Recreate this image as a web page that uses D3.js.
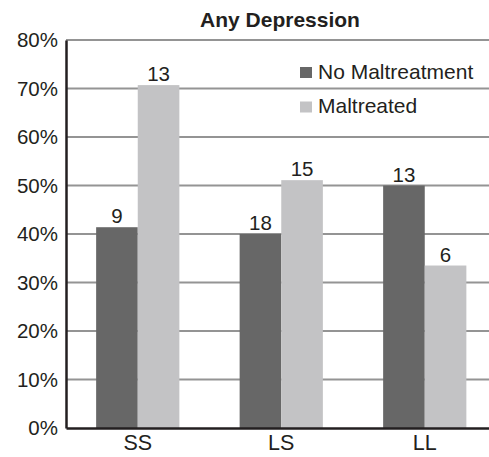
<!DOCTYPE html>
<html lang="en">
<head>
  <meta charset="UTF-8">
  <title>Any Depression</title>
  <script src="https://cdn.jsdelivr.net/npm/d3@7"></script>
  <style>
    body { margin: 0; background: #fff; }
    text { font-family: "Liberation Sans", Arial, sans-serif; fill: #231f20; }
  </style>
</head>
<body>
  <svg width="489" height="457"></svg>
  <script>
    let categories = ['SS', 'LS', 'LL'];
    let seriesNames = ['No Maltreatment', 'Maltreated'];
    let noMaltreatment = [41.4, 40, 50];
    let maltreated = [70.7, 51.1, 33.5];
    let nNoMaltreatment = [9, 18, 13];
    let nMaltreated = [13, 15, 6];
    let yTicks = [0, 10, 20, 30, 40, 50, 60, 70, 80];
    let colors = ['#676767', '#c3c3c5'];

    let svg = d3.select('svg');
    let plotLeft = 66, plotRight = 496.5, plotTop = 40, plotBottom = 428;

    let x = d3.scaleBand().domain(categories).range([plotLeft, plotRight])
      .paddingInner(0.42).paddingOuter(0.21);
    let xs = d3.scaleBand().domain(seriesNames).range([0, x.bandwidth()]);
    let y = d3.scaleLinear().domain([0, 80]).range([plotBottom, plotTop]);

    // gridlines
    svg.append('g')
      .selectAll('line')
      .data(yTicks.filter(d => d > 0))
      .join('line')
      .attr('x1', plotLeft).attr('x2', 489)
      .attr('y1', d => y(d)).attr('y2', d => y(d))
      .attr('stroke', '#949494').attr('stroke-width', 2);

    let rows = categories.map((c, i) => ({
      cat: c,
      vals: [
        {s: seriesNames[0], v: noMaltreatment[i], n: nNoMaltreatment[i], c: colors[0]},
        {s: seriesNames[1], v: maltreated[i], n: nMaltreated[i], c: colors[1]}
      ]
    }));

    let groups = svg.append('g')
      .selectAll('g')
      .data(rows)
      .join('g')
      .attr('transform', d => 'translate(' + x(d.cat) + ',0)');

    groups.selectAll('rect')
      .data(d => d.vals)
      .join('rect')
      .attr('x', d => xs(d.s))
      .attr('y', d => y(d.v))
      .attr('width', xs.bandwidth())
      .attr('height', d => plotBottom - y(d.v))
      .attr('fill', d => d.c);

    groups.selectAll('text')
      .data(d => d.vals)
      .join('text')
      .attr('x', d => xs(d.s) + xs.bandwidth() / 2)
      .attr('y', d => y(d.v) - 4)
      .attr('text-anchor', 'middle')
      .attr('font-size', 20.5)
      .text(d => d.n);

    // axes
    let yAxis = svg.append('g')
      .attr('transform', 'translate(' + plotLeft + ',0)')
      .call(d3.axisLeft(y).tickValues(yTicks).tickFormat(d => d + '%').tickSize(0).tickPadding(8));
    yAxis.select('.domain').attr('stroke', '#231f20').attr('stroke-width', 2.5);
    yAxis.selectAll('text').attr('font-size', 20.5).style('font-family', '"Liberation Sans", Arial, sans-serif').attr('fill', '#231f20');

    let xAxis = svg.append('g')
      .attr('transform', 'translate(0,' + plotBottom + ')')
      .call(d3.axisBottom(x).tickSize(0).tickPadding(7));
    xAxis.select('.domain').attr('stroke', '#231f20').attr('stroke-width', 2.5);
    xAxis.selectAll('text').attr('font-size', 21.5).style('font-family', '"Liberation Sans", Arial, sans-serif').attr('fill', '#231f20');

    // title
    svg.append('text')
      .attr('x', 280).attr('y', 27)
      .attr('text-anchor', 'middle')
      .attr('font-size', 21)
      .attr('font-weight', 'bold')
      .text('Any Depression');

    // legend
    let legend = svg.append('g')
      .selectAll('g')
      .data(seriesNames)
      .join('g')
      .attr('transform', (d, i) => 'translate(300,' + (67 + i * 34.5) + ')');
    legend.append('rect')
      .attr('width', 12).attr('height', 11)
      .attr('fill', (d, i) => colors[i]);
    legend.append('text')
      .attr('x', 18).attr('y', 11.5)
      .attr('font-size', 21)
      .text(d => d);
  </script>
</body>
</html>
